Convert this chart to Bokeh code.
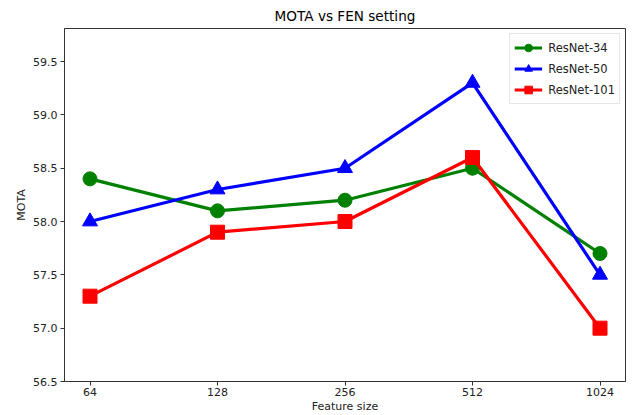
from bokeh.plotting import figure
from bokeh.models import FixedTicker, Range1d, Legend, LegendItem
from bokeh.embed import file_html
from bokeh.resources import INLINE

feature_sizes = ["64", "128", "256", "512", "1024"]
resnet34 = [58.4, 58.1, 58.2, 58.5, 57.7]
resnet50 = [58.0, 58.3, 58.5, 59.3, 57.5]
resnet101 = [57.3, 57.9, 58.0, 58.6, 57.0]
y_ticks = [56.5, 57.0, 57.5, 58.0, 58.5, 59.0, 59.5]

xs = list(range(len(feature_sizes)))
FONT = "DejaVu Sans"

p = figure(width=633, height=415, output_backend="svg", toolbar_location=None,
           x_range=Range1d(-0.2, 4.2), y_range=Range1d(56.5, 59.81),
           title="MOTA vs FEN setting",
           min_border_left=64, min_border_right=8, min_border_top=4, min_border_bottom=0)

p.title.align = "center"
p.title.text_font = FONT
p.title.text_font_size = "13.6px"
p.title.text_font_style = "normal"
p.title.text_color = "black"

p.xgrid.visible = False
p.ygrid.visible = False
p.outline_line_color = "#333333"
p.outline_line_width = 1

p.xaxis.ticker = FixedTicker(ticks=xs)
p.xaxis.major_label_overrides = {i: s for i, s in zip(xs, feature_sizes)}
p.yaxis.ticker = FixedTicker(ticks=y_ticks)
p.yaxis.major_label_overrides = {t: f"{t:.1f}" for t in y_ticks}
for ax in (p.xaxis, p.yaxis):
    ax.axis_line_color = "#333333"
    ax.major_tick_line_color = "#333333"
    ax.major_tick_out = 4
    ax.major_tick_in = 0
    ax.minor_tick_line_color = None
    ax.major_label_text_font = FONT
    ax.major_label_text_font_size = "11px"
    ax.major_label_text_color = "#222222"
    ax.axis_label_text_font = FONT
    ax.axis_label_text_font_size = "11px"
    ax.axis_label_text_font_style = "normal"
    ax.axis_label_text_color = "#222222"
    ax.major_label_standoff = 3
    ax.axis_label_standoff = 2
p.xaxis.major_label_standoff = 2
p.xaxis.axis_label_standoff = 1
p.xaxis.axis_label = "Feature size"
p.yaxis.axis_label = "MOTA"

series = [
    ("ResNet-34", resnet34, "#008000", "circle"),
    ("ResNet-50", resnet50, "#0000ff", "triangle"),
    ("ResNet-101", resnet101, "#ff0000", "square"),
]
items = []
for name, ys, color, marker in series:
    l = p.line(xs, ys, line_color=color, line_width=3.2)
    m = p.scatter(xs, ys, marker=marker, size=15 if marker == "triangle" else 14,
                  fill_color=color, line_color=color)
    items.append(LegendItem(label=name, renderers=[l, m]))

legend = Legend(items=items, location="top_right")
legend.label_text_font = FONT
legend.label_text_font_size = "11.5px"
legend.label_text_color = "#222222"
legend.border_line_color = "#cccccc"
legend.border_line_width = 1
legend.background_fill_alpha = 0.8
legend.margin = 5
legend.padding = 4
legend.spacing = 2
legend.glyph_width = 28
legend.glyph_height = 19
legend.label_standoff = 6
p.add_layout(legend)

open("out.html", "w").write(file_html(p, INLINE))
